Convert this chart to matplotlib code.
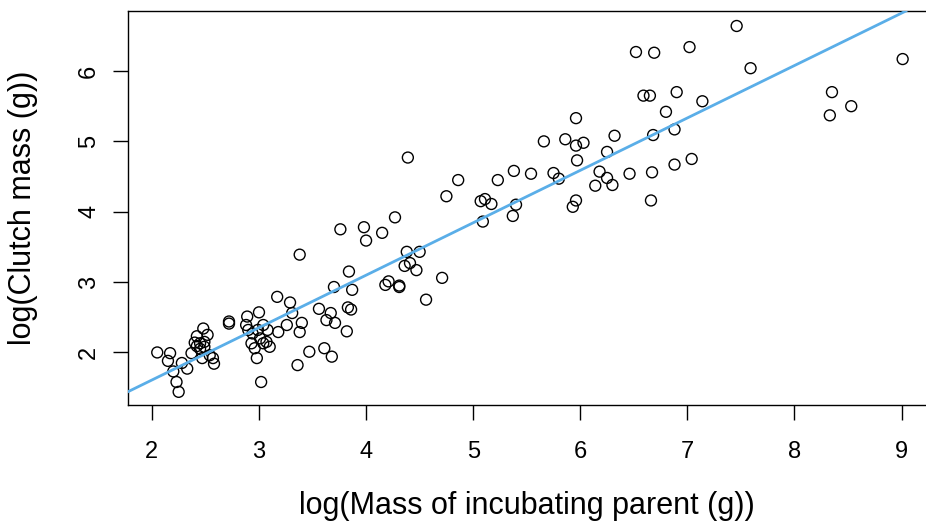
import numpy as np
import matplotlib
matplotlib.use("Agg")
import matplotlib.pyplot as plt

plt.rcParams['font.family'] = ['Liberation Sans', 'DejaVu Sans']

# log body mass of the incubating parent vs log clutch mass
log_parent_mass = [
    2.05, 2.17, 2.15, 2.28, 2.33, 2.20, 2.23, 2.25, 2.48, 2.42, 2.52, 2.40,
    2.45, 2.42, 2.49, 2.45, 2.49, 2.37, 2.47, 2.54, 2.57, 2.58,
    2.72, 2.72, 2.89, 3.00, 3.17, 3.29,
    2.88, 2.90, 2.94, 2.99, 3.04, 3.08, 3.01, 2.93, 2.96, 3.04, 3.07, 3.10,
    3.18, 3.26, 3.31, 3.40, 3.38, 2.98, 3.02, 3.36, 3.47,
    3.56, 3.63, 3.61, 3.68, 3.67, 3.71, 3.82, 3.83, 3.86, 3.87, 3.70, 3.84,
    3.38, 3.76, 3.98, 4.00, 4.15, 4.27, 4.38, 4.50, 4.36, 4.41, 4.47, 4.71,
    4.56, 4.18, 4.21, 4.31, 4.31, 4.39,
    4.75, 4.86, 5.07, 5.11, 5.17, 5.09, 5.23, 5.38, 5.40, 5.37, 5.54, 5.66,
    5.75, 5.80, 5.86, 5.96, 5.96, 6.03, 5.97, 5.93, 5.96,
    6.25, 6.32, 6.18, 6.25, 6.30, 6.14, 6.46, 6.68, 6.80, 6.88, 6.67, 6.66,
    6.88, 7.04, 6.52, 6.69, 7.02, 7.46, 7.59, 6.59, 6.65, 6.90, 7.14,
    8.35, 8.53, 8.33, 9.01,
]
log_clutch_mass = [
    2.00, 1.99, 1.88, 1.85, 1.77, 1.73, 1.58, 1.44, 2.34, 2.23, 2.25, 2.14,
    2.13, 2.09, 2.15, 2.05, 2.08, 1.99, 1.92, 1.96, 1.92, 1.84,
    2.44, 2.41, 2.51, 2.57, 2.79, 2.71,
    2.39, 2.32, 2.27, 2.32, 2.39, 2.32, 2.20, 2.13, 2.06, 2.13, 2.15, 2.08,
    2.29, 2.39, 2.56, 2.42, 2.29, 1.92, 1.58, 1.82, 2.01,
    2.62, 2.46, 2.06, 1.94, 2.56, 2.42, 2.30, 2.64, 2.61, 2.89, 2.93, 3.15,
    3.39, 3.75, 3.78, 3.59, 3.70, 3.92, 3.43, 3.43, 3.23, 3.27, 3.17, 3.06,
    2.75, 2.96, 3.01, 2.95, 2.93, 4.77,
    4.22, 4.45, 4.15, 4.18, 4.11, 3.86, 4.45, 4.58, 4.10, 3.94, 4.54, 5.00,
    4.55, 4.47, 5.03, 5.33, 4.94, 4.98, 4.73, 4.07, 4.16,
    4.85, 5.08, 4.57, 4.48, 4.38, 4.37, 4.54, 5.09, 5.42, 5.17, 4.56, 4.16,
    4.67, 4.75, 6.27, 6.26, 6.34, 6.64, 6.04, 5.65, 5.65, 5.70, 5.57,
    5.70, 5.50, 5.37, 6.17,
]

# fitted regression line
fit_intercept = 0.118
fit_slope = 0.745

xticks = [2, 3, 4, 5, 6, 7, 8, 9]
yticks = [2, 3, 4, 5, 6]

fig = plt.figure(figsize=(9.26, 5.23), dpi=100)
ax = fig.add_axes([128 / 926, 1 - 405 / 523, 798 / 926, 394 / 523])

ax.scatter(log_parent_mass, log_clutch_mass, s=62, facecolors='none',
           edgecolors='black', linewidths=1.0, zorder=2)
ax.axline((0, fit_intercept), slope=fit_slope, color='#5aaee8',
          linewidth=2.0, zorder=3)

ax.set_xlim(1.777, 1.777 + 798 / 107.1)
ax.set_ylim(1.253, 6.853)
ax.set_xticks(xticks)
ax.set_yticks(yticks)
ax.set_xticklabels([str(t) for t in xticks])
ax.set_yticklabels([str(t) for t in yticks], rotation=90, va='center')

ax.tick_params(axis='both', length=11, width=1.0, color='black',
               labelsize=17, direction='out')
ax.tick_params(axis='x', pad=15)
ax.tick_params(axis='y', pad=9)

for side in ['left', 'bottom', 'top']:
    ax.spines[side].set_linewidth(1.0)
    ax.spines[side].set_color('black')
ax.spines['right'].set_visible(False)

ax.set_xlabel('log(Mass of incubating parent (g))', fontsize=22, labelpad=20)
ax.set_ylabel('log(Clutch mass (g))', fontsize=22, labelpad=29)

fig.savefig('out.png', dpi=100)
